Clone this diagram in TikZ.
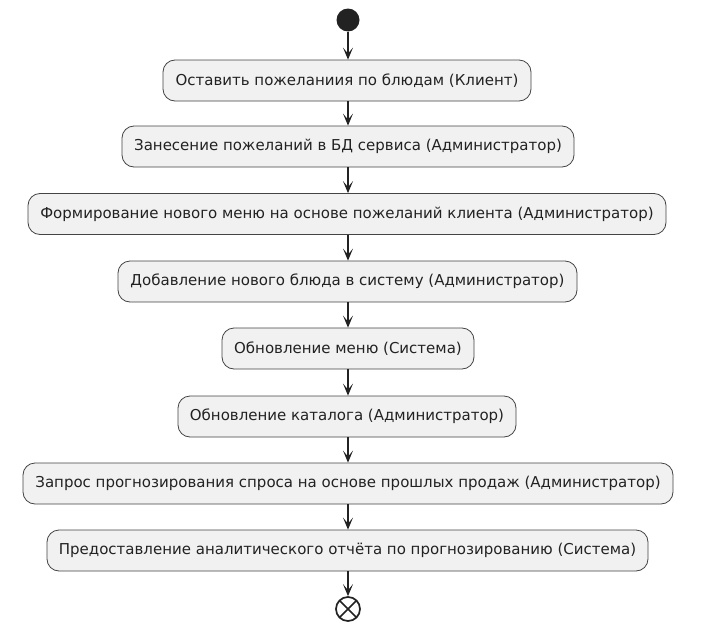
\documentclass[tikz,border=0pt]{standalone}
\usepackage{fontspec}
\setmainfont{DejaVu Sans}
\usetikzlibrary{arrows.meta}
\definecolor{boxfill}{HTML}{F1F1F1}
\definecolor{boxline}{HTML}{444444}
\definecolor{dark}{HTML}{222222}
\tikzset{
  act/.style={draw=boxline, fill=boxfill, line width=0.8pt, rounded corners=12pt,
    minimum height=41pt, inner sep=0pt, font=\fontsize{15}{18}\selectfont, text=dark},
  arr/.style={draw=dark, line width=1.1pt, -{Stealth[length=12pt,width=10pt,inset=6pt]}},
  startnode/.style={circle, fill=dark, minimum size=23pt, inner sep=0pt},
  endnode/.style={circle, draw=dark, line width=1.7pt, minimum size=24pt, inner sep=0pt,
    path picture={\draw[dark, line width=1.7pt]
      (path picture bounding box.south west) -- (path picture bounding box.north east)
      (path picture bounding box.north west) -- (path picture bounding box.south east);}}
}
\begin{document}
\begin{tikzpicture}[x=1pt,y=-1pt]
\useasboundingbox[fill=white] (0,0) rectangle (713,637);
\node[startnode] (s) at (348,20) {};
\node[act, minimum width=368pt] (b1) at (347,80.5) {Оставить пожеланиия по блюдам (Клиент)};
\node[act, minimum width=452pt] (b2) at (348,146.5) {Занесение пожеланий в БД сервиса (Администратор)};
\node[act, minimum width=638pt] (b3) at (347,214) {Формирование нового меню на основе пожеланий клиента (Администратор)};
\node[act, minimum width=459pt] (b4) at (347.5,281.5) {Добавление нового блюда в систему (Администратор)};
\node[act, minimum width=252pt] (b5) at (348,348.5) {Обновление меню (Система)};
\node[act, minimum width=338pt] (b6) at (347,416.5) {Обновление каталога (Администратор)};
\node[act, minimum width=650pt] (b7) at (348,483.5) {Запрос прогнозирования спроса на основе прошлых продаж (Администратор)};
\node[act, minimum width=601pt] (b8) at (347.5,550.5) {Предоставление аналитического отчёта по прогнозированию (Система)};
\node[endnode] (e) at (348,609) {};
\draw[arr] (s) -- (s |- b1.north);
\draw[arr] (s |- b1.south) -- (s |- b2.north);
\draw[arr] (s |- b2.south) -- (s |- b3.north);
\draw[arr] (s |- b3.south) -- (s |- b4.north);
\draw[arr] (s |- b4.south) -- (s |- b5.north);
\draw[arr] (s |- b5.south) -- (s |- b6.north);
\draw[arr] (s |- b6.south) -- (s |- b7.north);
\draw[arr] (s |- b7.south) -- (s |- b8.north);
\draw[arr] (s |- b8.south) -- (e);
\end{tikzpicture}
\end{document}
